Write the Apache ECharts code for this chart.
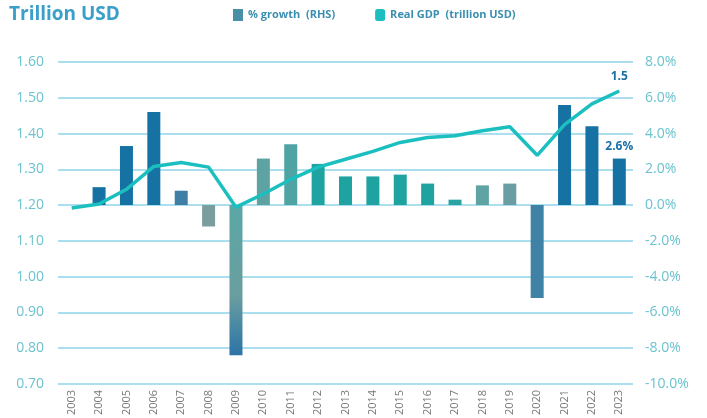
<!DOCTYPE html>
<html>
<head>
<meta charset="utf-8">
<script src="https://cdn.jsdelivr.net/npm/echarts@6/dist/echarts.min.js"></script>
<style>html,body{margin:0;background:#fff}#c{width:707px;height:418px}</style>
</head>
<body>
<div id="c"></div>
<script>
var years = ['2003','2004','2005','2006','2007','2008','2009','2010','2011','2012','2013','2014','2015','2016','2017','2018','2019','2020','2021','2022','2023'];
var growth = [0, 1.0, 3.3, 5.2, 0.8, -1.2, -8.4, 2.6, 3.4, 2.3, 1.6, 1.6, 1.7, 1.2, 0.3, 1.1, 1.2, -5.2, 5.6, 4.4, 2.6];
var gdp = [1.192, 1.203, 1.244, 1.308, 1.319, 1.306, 1.194, 1.231, 1.272, 1.306, 1.328, 1.350, 1.375, 1.389, 1.394, 1.408, 1.419, 1.339, 1.425, 1.483, 1.519];
var barColors = ['#1572a3','#1572a3','#1572a3','#1572a3','#3f7fa5','#7a9e9e','grad','#5ea3a3','#4fa3a3','#1ea3a0','#1ea3a0','#1ea3a0','#1ea3a0','#1ea3a0','#2aa3a3','#5fa3a3','#6a9ea3','#3f82a6','#1572a3','#1572a3','#1572a3'];

var txt = '#6cc3cf';
var chart = echarts.init(document.getElementById('c'));
chart.setOption({
    textStyle: { fontFamily: 'Open Sans' },
    title: { text: 'Trillion USD', left: 4, top: 0, textStyle: { color: '#3a9fc9', fontSize: 19, fontWeight: 'bold' } },
    legend: {
        top: 4, left: 228, itemGap: 40,
        textStyle: { color: '#3a8fb0', fontSize: 11, fontWeight: 'bold' },
        data: [
            { name: '% growth  (RHS)', icon: 'rect', itemStyle: { color: '#4a8fa8' } },
            { name: 'Real GDP  (trillion USD)', icon: 'roundRect', itemStyle: { color: '#1cbfbf' } }
        ],
        itemWidth: 10, itemHeight: 12
    },
    grid: { left: 58, right: 74, top: 62, bottom: 32 },
    xAxis: {
        type: 'category', data: years,
        axisLine: { show: false }, axisTick: { show: false },
        axisLabel: { rotate: 90, color: '#777', fontSize: 11, margin: 6 }
    },
    yAxis: [
        { type: 'value', min: 0.7, max: 1.6, interval: 0.1,
          axisLabel: { color: txt, fontSize: 14, formatter: function (v) { return v.toFixed(2); }, margin: 14 },
          axisLine: { show: false }, axisTick: { show: false },
          splitLine: { lineStyle: { color: '#8fd3ea', width: 1.5 } } },
        { type: 'value', min: -10, max: 8, interval: 2,
          axisLabel: { color: txt, fontSize: 14, formatter: function (v) { return v.toFixed(1) + '%'; }, margin: 12 },
          axisLine: { show: false }, axisTick: { show: false }, splitLine: { show: false } }
    ],
    series: [
        {
            name: '% growth  (RHS)', type: 'bar', yAxisIndex: 1, barWidth: 13,
            data: growth.map(function (v, i) {
                var c = barColors[i];
                if (c === 'grad') c = new echarts.graphic.LinearGradient(0, 0, 0, 1, [{ offset: 0, color: '#5aa7a5' }, { offset: 0.6, color: '#6a9ea0' }, { offset: 1, color: '#2c74a6' }]);
                var d = { value: v, itemStyle: { color: c } };
                if (i === growth.length - 1) d.label = { show: true, position: 'top', formatter: v.toFixed(1) + '%', color: '#1a6fa8', fontWeight: 'bold', fontSize: 12, distance: 6 };
                return d;
            })
        },
        {
            name: 'Real GDP  (trillion USD)', type: 'line', yAxisIndex: 0,
            symbol: 'circle', symbolSize: 0.1, showSymbol: true,
            lineStyle: { color: '#1cbfbf', width: 3.5 }, itemStyle: { color: '#1cbfbf' },
            data: gdp.map(function (v, i) {
                if (i === gdp.length - 1) return { value: v, label: { show: true, position: 'top', distance: 8, formatter: '1.5', color: '#1a6fa8', fontWeight: 'bold', fontSize: 12 } };
                return v;
            })
        }
    ]
});
</script>
</body>
</html>
